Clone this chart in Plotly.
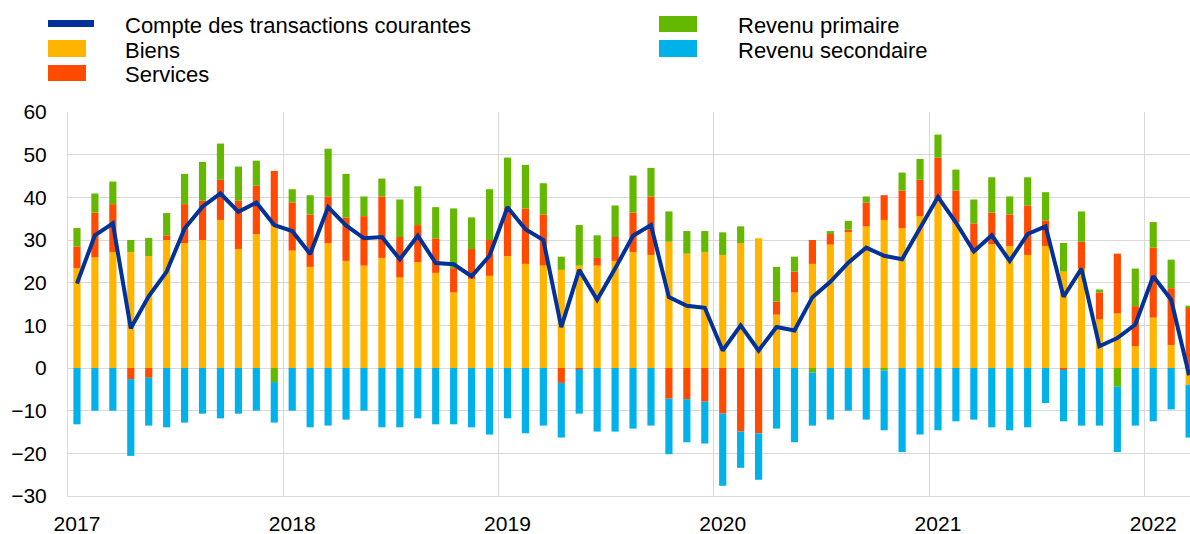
import numpy as np
import plotly.graph_objects as go

# ---------------- data (billions EUR, monthly, Jan 2017 - Mar 2022) ----------------
months = [f"{y}-{m:02d}" for y in range(2017, 2023) for m in range(1, 13)][:63]
year_labels = ["2017", "2018", "2019", "2020", "2021", "2022"]

biens = [
    23.4, 25.9, 27.2, 27.2, 26.2, 30.0, 29.3, 30.0, 34.7, 27.9, 31.4, 33.3,
    27.5, 23.7, 29.3, 25.1, 24.0, 25.8, 21.2, 24.8, 22.3, 17.7, 20.9, 21.6,
    26.2, 24.4, 24.0, 23.0, 24.0, 24.0, 25.1, 27.2, 26.5, 29.6, 26.8, 27.2,
    26.5, 29.3, 30.4, 12.5, 17.7, 24.4, 28.9, 32.1, 33.2, 34.7, 32.8, 35.6,
    39.1, 34.1, 27.2, 29.0, 28.6, 26.5, 28.6, 22.6, 23.3, 11.4, 12.8, 5.1,
    11.8, 5.4, -4.0,
]
services = [
    5.1, 10.5, 11.2, -2.6, -2.3, 1.1, 9.1, 9.2, 9.4, 11.3, 11.3, 12.9,
    11.3, 12.3, 10.9, 10.2, 11.6, 14.4, 9.5, 8.7, 8.1, 5.7, 7.0, 8.4,
    11.5, 13.0, 12.0, -3.5, -0.3, 1.8, 5.6, 9.2, 13.7, -7.2, -7.3, -7.9,
    -10.7, -14.9, -15.3, 3.1, 4.9, 5.6, 2.5, 0.3, 5.6, 5.8, 8.8, 8.5,
    10.2, 7.5, 6.7, 7.4, 7.4, 11.6, 6.0, -0.4, 6.3, 6.3, 14.0, 9.4,
    16.4, 13.3, 14.2,
]
revenu_primaire = [
    4.3, 4.5, 5.3, 2.8, 4.3, 5.2, 7.1, 9.1, 8.5, 8.0, 5.9, -3.3,
    3.1, 4.5, 11.2, 10.2, 4.6, 4.2, 8.8, 9.1, 7.3, 14.0, 7.4, 11.9,
    11.6, 10.2, 7.3, 3.1, 9.5, 5.3, 7.4, 8.7, 6.7, 7.1, 5.3, 4.9,
    5.3, 3.9, 0.0, 8.1, 3.5, -1.1, 0.7, 2.1, 1.4, -0.6, 4.2, 4.9,
    5.4, 4.9, 5.6, 8.3, 4.2, 6.6, 6.6, 6.7, 7.1, 0.7, -4.4, 8.8,
    6.0, 6.7, 0.4,
]
revenu_secondaire = [
    -13.2, -10.0, -10.0, -18.0, -11.2, -13.9, -12.8, -10.7, -11.8, -10.7, -10.0, -9.5,
    -10.0, -13.9, -13.5, -12.1, -10.0, -13.9, -13.9, -11.8, -13.2, -13.2, -13.9, -15.6,
    -11.8, -15.3, -13.5, -12.8, -10.4, -14.9, -14.9, -14.2, -13.5, -13.0, -10.1, -9.8,
    -16.9, -8.5, -10.9, -14.2, -17.4, -12.4, -12.1, -10.0, -12.1, -14.0, -19.7, -15.6,
    -14.6, -12.5, -12.1, -13.9, -14.6, -13.9, -8.2, -12.1, -13.5, -13.5, -15.3, -13.5,
    -12.5, -9.7, -12.3,
]
compte_courant = [
    19.8, 31.1, 33.9, 9.3, 16.8, 22.6, 32.7, 37.8, 40.9, 36.6, 38.8, 33.5,
    32.1, 26.7, 37.7, 33.4, 30.4, 30.7, 25.5, 31.0, 24.6, 24.3, 21.5, 26.3,
    37.7, 32.5, 30.0, 9.6, 23.0, 16.0, 23.3, 31.0, 33.5, 16.6, 14.6, 14.1,
    4.1, 10.0, 4.1, 9.6, 8.8, 16.6, 20.2, 24.7, 28.2, 26.3, 25.5, 32.8,
    40.1, 34.1, 27.3, 31.1, 25.1, 31.4, 33.2, 16.7, 23.3, 5.1, 7.0, 10.2,
    21.5, 16.0, -1.7,
]

# ---------------- styling ----------------
C_LINE = "#003299"
C_BIENS = "#FFB400"
C_SERV = "#FF4B00"
C_PRIM = "#65B800"
C_SEC = "#00B1EA"
GRID = "#d9d9d9"
FONT = "Liberation Sans, Arial, sans-serif"

W, H = 1190, 534
PL, PR, PT, PB = 68, 1190, 112, 496

x = np.arange(len(months)) + 0.5
year_pos = [x[months.index(f"{y}-01")] for y in year_labels]
year_bounds = [x[months.index(f"{y}-01")] - 0.5 for y in year_labels]

fig = go.Figure()
bar_w = 0.4
for name, vals, col in [
    ("Biens", biens, C_BIENS),
    ("Services", services, C_SERV),
    ("Revenu primaire", revenu_primaire, C_PRIM),
    ("Revenu secondaire", revenu_secondaire, C_SEC),
]:
    fig.add_trace(go.Bar(x=x, y=vals, name=name, width=bar_w,
                         marker=dict(color=col, line=dict(width=0)),
                         customdata=months,
                         hovertemplate="%{customdata}: %{y}<extra>" + name + "</extra>"))

fig.add_trace(go.Scatter(x=x, y=compte_courant, mode="lines",
                         name="Compte des transactions courantes",
                         line=dict(color=C_LINE, width=4),
                         customdata=months,
                         hovertemplate="%{customdata}: %{y}<extra></extra>"))

fig.update_layout(
    width=W, height=H,
    margin=dict(l=PL, r=W - PR, t=PT, b=H - PB),
    barmode="relative",
    plot_bgcolor="white", paper_bgcolor="white",
    showlegend=False,
    font=dict(family=FONT, size=21, color="#000000"),
)

fig.update_xaxes(
    range=[0, 62.55],
    tickmode="array", tickvals=year_pos, ticktext=year_labels,
    ticks="", showgrid=False, zeroline=False,
    showline=True, linecolor=GRID, linewidth=1,
    ticklabelstandoff=9,
    tickfont=dict(size=21, family=FONT, color="#000000"),
    minor=dict(tickmode="array", tickvals=year_bounds, showgrid=True,
               gridcolor=GRID, gridwidth=1, ticks=""),
)
fig.update_yaxes(
    range=[-30, 60], tick0=0, dtick=10,
    ticks="", showgrid=True, gridcolor=GRID, gridwidth=1,
    zeroline=False, showline=True, linecolor=GRID, linewidth=1,
    ticklabelstandoff=16,
    tickfont=dict(size=21, family=FONT, color="#000000"),
)

# ---------------- legend (drawn in paper coordinates) ----------------
def px_x(v):
    return (v - PL) / (PR - PL)

def px_y(v):
    return (PB - v) / (PB - PT)

legend_items = [
    # name, colour, symbol box (x0, x1, y0, y1) in px, text x, text y
    ("Compte des transactions courantes", C_LINE, (48, 94, 20, 27), 123, 25),
    ("Biens", C_BIENS, (48, 86, 40, 57), 123, 50),
    ("Services", C_SERV, (48, 86, 65, 81), 123, 75),
    ("Revenu primaire", C_PRIM, (659, 697, 16, 32), 736, 25.5),
    ("Revenu secondaire", C_SEC, (659, 697, 40, 57), 736, 50),
]
for name, col, (x0, x1, y0, y1), tx, ty in legend_items:
    fig.add_shape(type="rect", xref="paper", yref="paper",
                  x0=px_x(x0), x1=px_x(x1), y0=px_y(y1), y1=px_y(y0),
                  fillcolor=col, line=dict(width=0), layer="above")
    fig.add_annotation(xref="paper", yref="paper", x=px_x(tx), y=px_y(ty),
                       xanchor="left", yanchor="middle", showarrow=False,
                       text=name, font=dict(family=FONT, size=22, color="#000000"))

fig.write_html("out.html",
               config={"displayModeBar": False},
               post_script="document.body.style.margin='0px';document.body.style.overflow='hidden';")
